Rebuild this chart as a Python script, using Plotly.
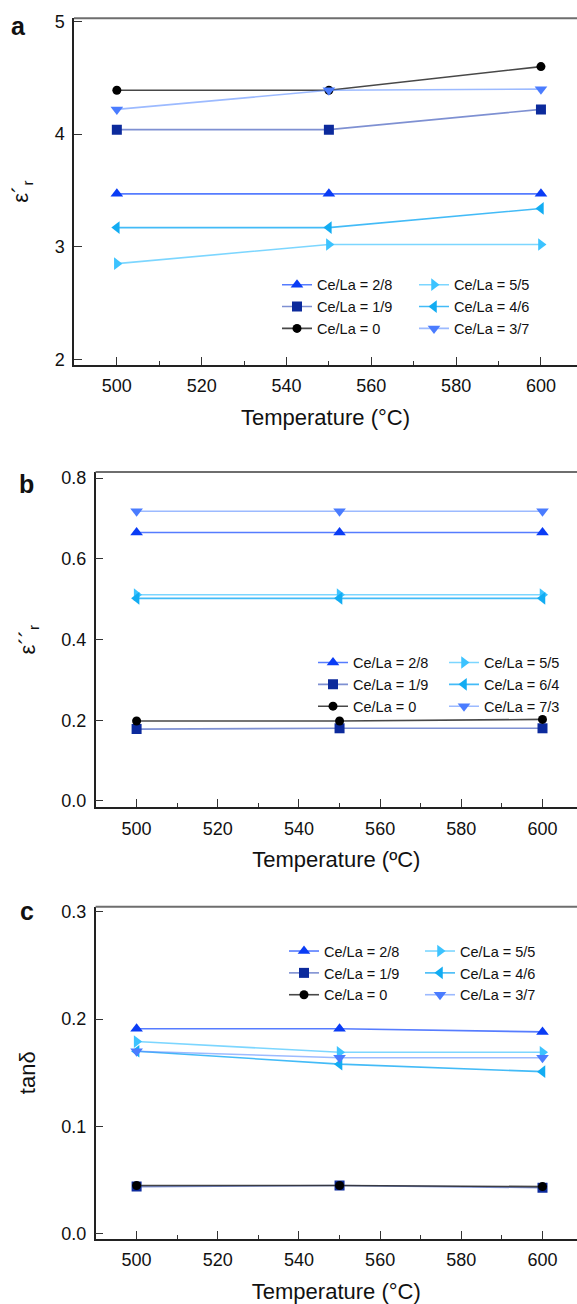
import plotly.graph_objects as go

temps = [500, 550, 600]

# Panel a: epsilon' r
a_labels = ["Ce/La = 2/8", "Ce/La = 1/9", "Ce/La = 0", "Ce/La = 5/5", "Ce/La = 4/6", "Ce/La = 3/7"]
a_28 = [3.47, 3.47, 3.47]
a_19 = [4.04, 4.04, 4.22]
a_0 = [4.39, 4.39, 4.60]
a_55 = [2.85, 3.02, 3.02]
a_46 = [3.17, 3.17, 3.34]
a_37 = [4.22, 4.39, 4.40]

# Panel b: epsilon'' r
b_labels = ["Ce/La = 2/8", "Ce/La = 1/9", "Ce/La = 0", "Ce/La = 5/5", "Ce/La = 6/4", "Ce/La = 7/3"]
b_28 = [0.665, 0.665, 0.665]
b_19 = [0.178, 0.180, 0.180]
b_0 = [0.198, 0.198, 0.202]
b_55 = [0.511, 0.511, 0.511]
b_46 = [0.502, 0.502, 0.502]
b_37 = [0.718, 0.718, 0.718]

# Panel c: tan delta
c_labels = ["Ce/La = 2/8", "Ce/La = 1/9", "Ce/La = 0", "Ce/La = 5/5", "Ce/La = 4/6", "Ce/La = 3/7"]
c_28 = [0.191, 0.191, 0.188]
c_19 = [0.044, 0.045, 0.043]
c_0 = [0.045, 0.045, 0.044]
c_55 = [0.179, 0.169, 0.169]
c_46 = [0.170, 0.158, 0.151]
c_37 = [0.170, 0.164, 0.164]

# style per series (order: 2/8, 1/9, 0, 5/5, 4/6, 3/7)
symbols = ["triangle-up", "square", "circle", "triangle-right", "triangle-left", "triangle-down"]
mcolors = ["#0a3cf5", "#0c2a9c", "#000000", "#3cc3ff", "#12acf2", "#4a7cff"]
lcolors = ["rgba(30,80,255,0.75)", "rgba(40,70,180,0.6)", "rgba(40,40,40,0.85)",
           "rgba(80,200,255,0.75)", "rgba(20,170,245,0.8)", "rgba(90,140,255,0.6)"]
msizes = [11, 10, 9, 11, 11, 11]

FONT = "Arial, Liberation Sans, sans-serif"

fig = go.Figure()

panels = [
    ("x", "y", a_labels, [a_28, a_19, a_0, a_55, a_46, a_37], ("legend", "legend2")),
    ("x2", "y2", b_labels, [b_28, b_19, b_0, b_55, b_46, b_37], ("legend3", "legend4")),
    ("x3", "y3", c_labels, [c_28, c_19, c_0, c_55, c_46, c_37], ("legend5", "legend6")),
]

for xa, ya, labels, series, legs in panels:
    for i, (lab, ys) in enumerate(zip(labels, series)):
        fig.add_trace(go.Scatter(
            x=temps, y=ys, name=lab, xaxis=xa, yaxis=ya,
            mode="lines+markers",
            line=dict(color=lcolors[i], width=1.6),
            marker=dict(symbol=symbols[i], color=mcolors[i], size=msizes[i], line=dict(width=0)),
            legend=legs[0] if i < 3 else legs[1],
        ))

W, H = 577, 1304

def px(v):
    return v / W

def py(v):
    return 1 - v / H

axis_common = dict(
    showgrid=False, zeroline=False, showline=True, linecolor="#222", linewidth=1.5,
    ticks="inside", ticklen=8, tickwidth=1, tickcolor="#333",
    tickfont=dict(family=FONT, size=18, color="#111"),
)

xcommon = dict(axis_common, range=[489.9, 608.5], tickvals=[500, 520, 540, 560, 580, 600],
               minor=dict(ticks="inside", ticklen=4, tickvals=[510, 530, 550, 570, 590], tickcolor="#333"),
               title_font=dict(family=FONT, size=22, color="#111"), ticklabelstandoff=4)

# panel domains (pixels)
a_dom_x = [px(74), 1.0]
a_dom_y = [py(362), py(12.3)]
b_dom_x = [px(95.6), 1.0]
b_dom_y = [py(808), py(470)]
c_dom_x = [px(95.6), 1.0]
c_dom_y = [py(1243.3), py(908.3)]

fig.update_layout(
    width=W, height=H, margin=dict(l=0, r=0, t=0, b=0),
    paper_bgcolor="white", plot_bgcolor="white",
    font=dict(family=FONT, color="#111"),
    xaxis=dict(xcommon, domain=a_dom_x, anchor="y", title=dict(text="Temperature (°C)", standoff=14)),
    yaxis=dict(axis_common, domain=a_dom_y, anchor="x", range=[1.95, 5.03], tickvals=[2, 3, 4, 5],
               ticklabelstandoff=4,
               title=dict(text="ε´<sub>r</sub>", font=dict(family=FONT, size=22), standoff=20)),
    xaxis2=dict(xcommon, domain=b_dom_x, anchor="y2", title=dict(text="Temperature (ºC)", standoff=14)),
    yaxis2=dict(axis_common, domain=b_dom_y, anchor="x2", range=[-0.0155, 0.815],
                tickvals=[0, 0.2, 0.4, 0.6, 0.8], tickformat=".1f", ticklabelstandoff=4,
                title=dict(text="ε´´<sub>r</sub>", font=dict(family=FONT, size=22), standoff=20)),
    xaxis3=dict(xcommon, domain=c_dom_x, anchor="y3", title=dict(text="Temperature (°C)", standoff=14)),
    yaxis3=dict(axis_common, domain=c_dom_y, anchor="x3", range=[-0.0046, 0.3046],
                tickvals=[0, 0.1, 0.2, 0.3], tickformat=".1f", ticklabelstandoff=4,
                title=dict(text="tanδ", font=dict(family=FONT, size=22), standoff=20)),
    showlegend=True,
)

leg_common = dict(font=dict(family=FONT, size=14.5, color="#111"), bgcolor="rgba(0,0,0,0)",
                  xanchor="left", yanchor="top", itemsizing="trace", tracegroupgap=0,
                  borderwidth=0, itemwidth=30)
# legend positions (left x, top y) in pixels
leg_pos = {
    "legend": (277, 265), "legend2": (414, 265),
    "legend3": (313, 646), "legend4": (444, 646),
    "legend5": (284, 937), "legend6": (420, 937),
}
for name, (lx, ly) in leg_pos.items():
    fig.update_layout({name: dict(leg_common, x=px(lx), y=py(ly))})

# top frame lines
for dom_x, dom_y in [(a_dom_x, a_dom_y), (b_dom_x, b_dom_y), (c_dom_x, c_dom_y)]:
    fig.add_shape(type="line", xref="paper", yref="paper", x0=dom_x[0], x1=1.0, y0=dom_y[1], y1=dom_y[1],
                  line=dict(color="#6e6e6e", width=2))

# panel labels
for lab, x, y in [("a", 18, 20), ("b", 26, 482), ("c", 27, 913)]:
    fig.add_annotation(text=f"<b>{lab}</b>", xref="paper", yref="paper", x=px(x), y=py(y),
                       xanchor="center", yanchor="middle", showarrow=False,
                       font=dict(family=FONT, size=25, color="#111"))

fig.write_html("out.html")
